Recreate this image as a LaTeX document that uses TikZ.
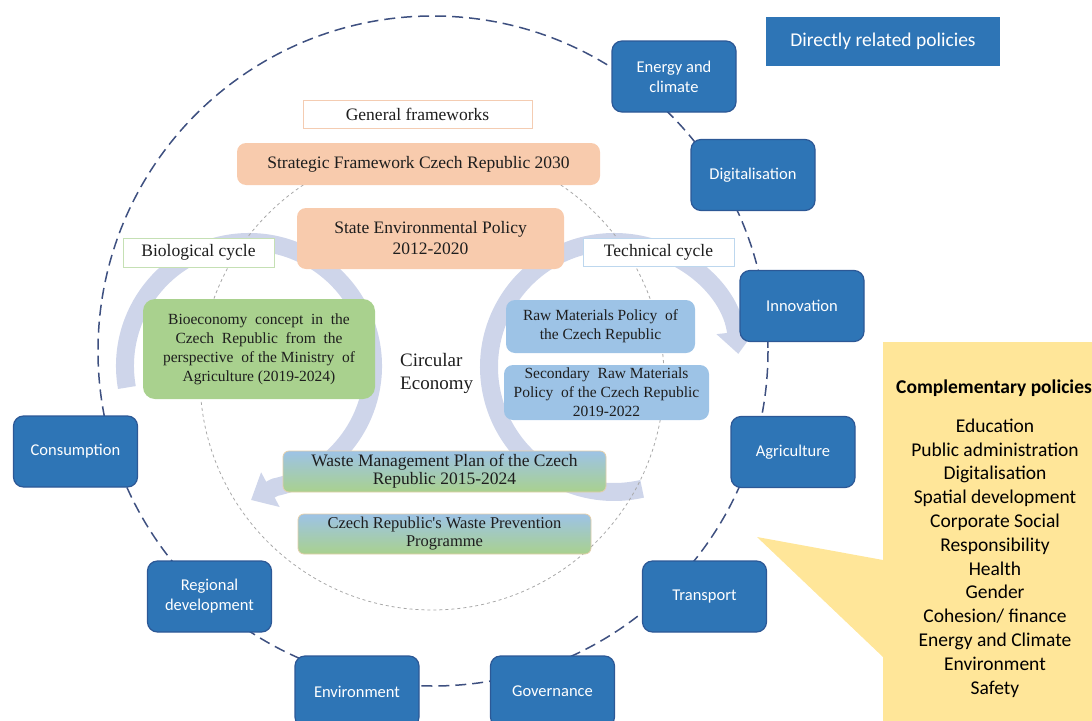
\documentclass[tikz,border=0pt]{standalone}
\usepackage{fontspec}
\setmainfont{Liberation Serif}
\setsansfont{Carlito}
\usetikzlibrary{arrows.meta}
\definecolor{polblue}{RGB}{46,117,182}
\definecolor{polline}{RGB}{44,88,150}
\definecolor{ringc}{RGB}{62,80,128}
\definecolor{dotc}{RGB}{168,168,168}
\definecolor{peach}{RGB}{248,203,173}
\definecolor{leaf}{RGB}{169,209,142}
\definecolor{sky}{RGB}{157,195,230}
\definecolor{bandc}{RGB}{206,213,234}
\definecolor{callc}{RGB}{255,230,153}
\definecolor{txt}{RGB}{30,30,30}
\definecolor{wasteline}{RGB}{226,206,170}
\definecolor{gfline}{RGB}{244,204,178}
\definecolor{bioline}{RGB}{197,224,180}
\definecolor{techline}{RGB}{189,215,238}
\newcommand{\myfs}[2]{\fontsize{#1}{#2}\selectfont}
\tikzset{
  pol/.style={draw=polline, line width=1.2pt, fill=polblue, rounded corners=10pt,
    minimum width=124pt, minimum height=71pt, inner sep=2pt, text=white,
    font=\sffamily\myfs{16.5}{20}, align=center},
  serifbox/.style={text=txt, align=center, inner sep=0pt},
  peachbox/.style={serifbox, fill=peach, rounded corners=9pt},
  labelbox/.style={serifbox, fill=white, line width=0.9pt, font=\myfs{17.5}{21}},
  wastebox/.style={serifbox, top color=sky, bottom color=leaf, draw=wasteline, line width=0.8pt, rounded corners=6pt},
  outerring/.style={draw=ringc, line width=1.5pt, dash pattern=on 11pt off 6pt},
  innerring/.style={draw=dotc, line width=0.8pt, dash pattern=on 3pt off 3pt},
  band/.style={draw=bandc, line width=18pt, line join=round},
  bandtip/.tip={Triangle[width=38pt,length=22pt]}
}
\begin{document}
\begin{tikzpicture}[x=1pt,y=-1pt]
\useasboundingbox (0,0) rectangle (1092,720);
\clip (0,0) rectangle (1092,720);

% outer dashed ring
\coordinate (ringc) at (433,351);
\draw[outerring] (ringc) circle[radius=335];

% cycle bands
\coordinate (cL) at (249,366);
\coordinate (cR) at (614,367);
\coordinate (tipL) at (251,500);
\draw[band, -{bandtip}] ([shift={(-190:124)}]cL) arc[start angle=-190, end angle=78, radius=124] -- (tipL);
\draw[band, {bandtip}-] ([shift={(-6:125)}]cR) arc[start angle=-6, end angle=-283, radius=125];

% inner dotted ring
\coordinate (innc) at (432,378);
\draw[innerring] (innc) circle[radius=232];

% general frameworks
\node[labelbox, draw=gfline, minimum width=229pt, minimum height=28pt] (gf) at (417.5,114) {General frameworks};
\node[peachbox, minimum width=363pt, minimum height=42pt, font=\myfs{17.5}{21}] (sf) at (418.5,164) {Strategic Framework Czech Republic 2030};
\node[peachbox, minimum width=267pt, minimum height=61pt, font=\myfs{17.5}{21}] (sep) at (430.5,238.5) {State Environmental Policy\\2012-2020};

\node[labelbox, draw=bioline, minimum width=151pt, minimum height=29pt] (bio) at (198.5,252.5) {Biological cycle};
\node[labelbox, draw=techline, minimum width=151pt, minimum height=28pt] (tech) at (658.5,252) {Technical cycle};

\node[serifbox, fill=leaf, rounded corners=12pt, minimum width=232pt, minimum height=100pt, font=\myfs{15.5}{19}] (bioeco) at (259,349)
  {Bioeconomy\ \ concept\ \ in\ \ the\\Czech\ \ Republic\ \ from\ \ the\\perspective\ \ of\ the\ Ministry\ \ of\\Agriculture (2019-2024)};

\node[anchor=west, align=left, text=txt, inner sep=0pt, font=\myfs{19}{23}] (ce) at (400,373) {Circular\\Economy};

\node[serifbox, fill=sky, rounded corners=9pt, minimum width=189pt, minimum height=53pt, font=\myfs{15.5}{19}] (raw) at (600.5,326.5)
  {Raw\ Materials\ Policy\ \ of\\the Czech Republic};
\node[serifbox, fill=sky, rounded corners=9pt, minimum width=205pt, minimum height=55pt, font=\myfs{15.5}{19}] (sec) at (606.5,392.5)
  {Secondary\ \ Raw\ Materials\\Policy\ \ of the Czech Republic\\2019-2022};

\node[wastebox, minimum width=323pt, minimum height=41pt, font=\myfs{17.5}{18}] (wmp) at (444.5,471.5)
  {Waste Management Plan of the Czech\\Republic 2015-2024};
\node[wastebox, minimum width=293pt, minimum height=40pt, font=\myfs{16.5}{18}] (wpp) at (444.5,534)
  {Czech Republic\textquotesingle s Waste Prevention\\Programme};

% directly related policies
\node[fill=polblue, minimum width=234pt, minimum height=49pt, inner sep=0pt, text=white, font=\sffamily\myfs{19.5}{23}] (drp) at (883,41.5) {Directly related policies};

\node[pol] (energy) at (674,76.5) {Energy and\\climate};
\node[pol] (digit) at (753,175) {Digitalisation};
\node[pol] (innov) at (802,306) {Innovation};
\node[pol] (agri) at (793,452) {Agriculture};
\node[pol] (transp) at (704.5,596.5) {Transport};
\node[pol] (gov) at (552.5,691.5) {Governance};
\node[pol] (env) at (357,691.5) {Environment};
\node[pol] (reg) at (209.5,596.5) {Regional\\development};
\node[pol] (cons) at (75.5,451.5) {Consumption};

% complementary policies callout
\fill[callc] (883,342) -- (1100,342) -- (1100,730) -- (883,730) -- (883,657) -- (757,537) -- (883,560) -- cycle;
\node[anchor=base west, inner sep=0pt, font=\sffamily\bfseries\myfs{19.5}{23}] (comptitle) at (896,393) {Complementary policies};
\node[align=center, inner sep=0pt, font=\sffamily\myfs{19.5}{23.8}] (complist) at (995,558)
  {Education\\Public administration\\Digitalisation\\Spatial development\\Corporate Social\\Responsibility\\Health\\Gender\\Cohesion/ finance\\Energy and Climate\\Environment\\Safety};
\end{tikzpicture}
\end{document}
